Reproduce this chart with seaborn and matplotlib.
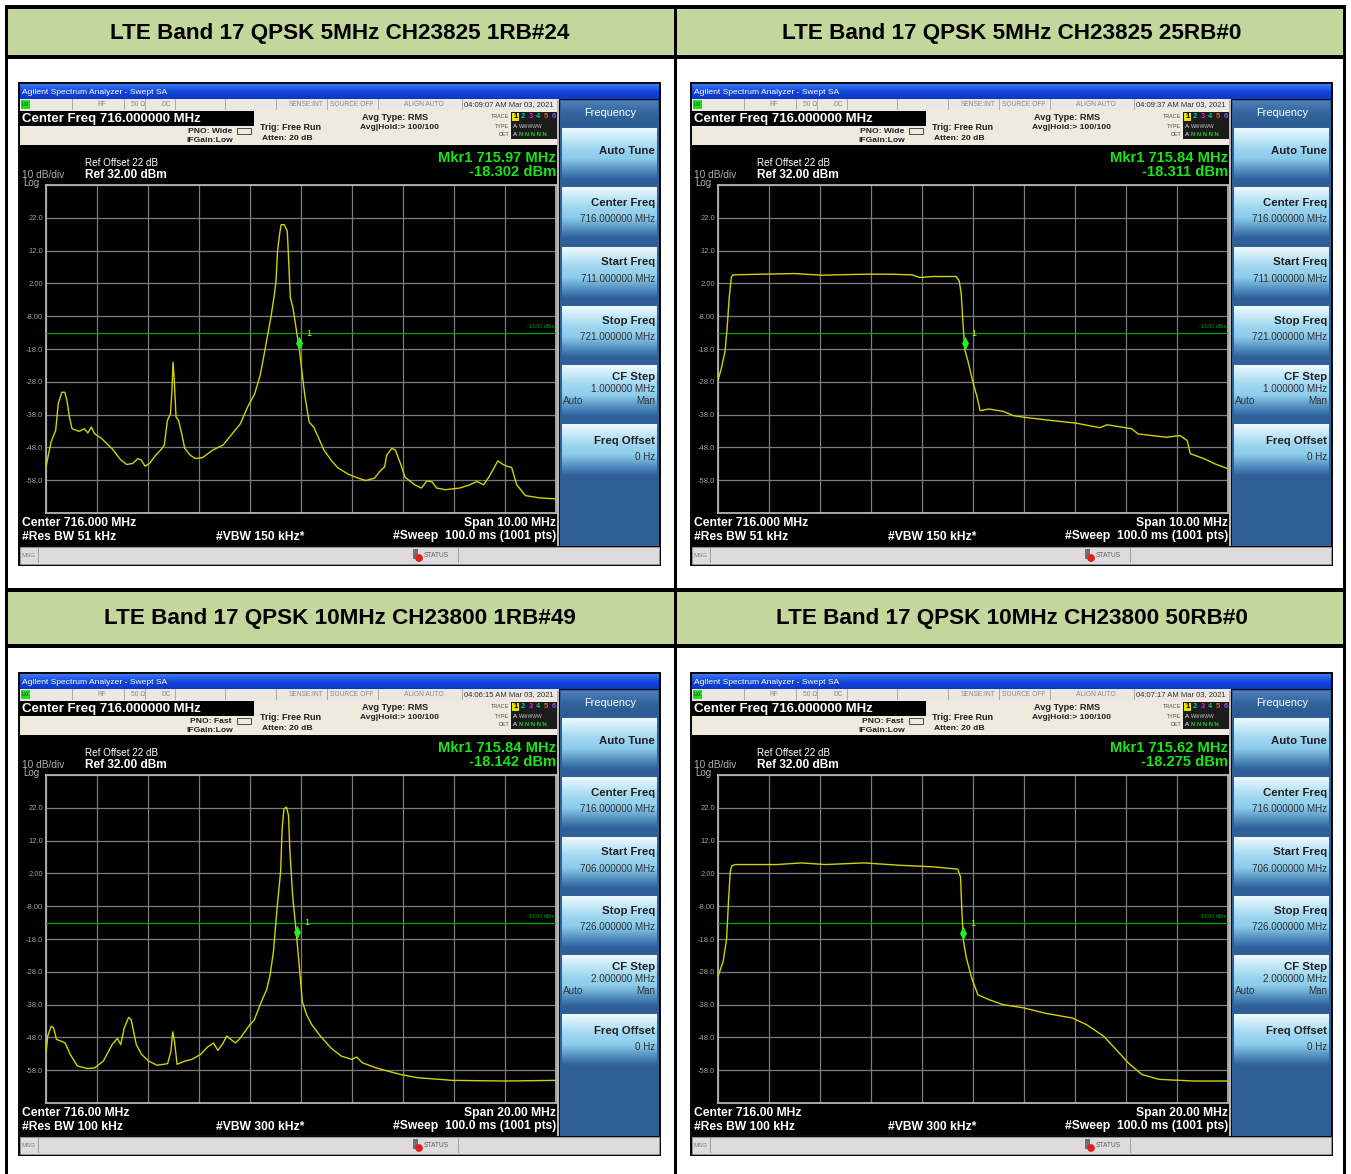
import numpy as np
import pandas as pd
import matplotlib
matplotlib.use("Agg")
import matplotlib.pyplot as plt
import seaborn as sns
from matplotlib.patches import Rectangle
from matplotlib.path import Path
from matplotlib.colors import LinearSegmentedColormap
import matplotlib.transforms as mtransforms

# ---------------------------------------------------------------- data
headers = [
    "LTE Band 17 QPSK 5MHz CH23825 1RB#24",
    "LTE Band 17 QPSK 5MHz CH23825 25RB#0",
    "LTE Band 17 QPSK 10MHz CH23800 1RB#49",
    "LTE Band 17 QPSK 10MHz CH23800 50RB#0",
]

# trace 1 : 5 MHz, 1RB#24  (MHz, dBm)
tl_freq = [711.00, 711.10, 711.19, 711.24, 711.31, 711.37, 711.41, 711.46, 711.51, 711.65,
           711.75, 711.82, 711.89, 711.95, 712.09, 712.29, 712.46, 712.58, 712.70, 712.80,
           712.87, 712.94, 713.03, 713.15, 713.25, 713.32, 713.38, 713.44, 713.47, 713.49,
           713.51, 713.55, 713.60, 713.66, 713.72, 713.83, 713.93, 714.07, 714.27, 714.47,
           714.68, 714.81, 714.95, 715.09, 715.20, 715.28, 715.35, 715.41, 715.48, 715.51,
           715.54, 715.58, 715.61, 715.67, 715.73, 715.75, 715.79, 715.84, 715.90, 715.97,
           716.03, 716.08, 716.16, 716.25, 716.35, 716.45, 716.59, 716.72, 716.93, 717.13,
           717.27, 717.44, 717.54, 717.64, 717.68, 717.78, 717.85, 717.95, 718.04, 718.23,
           718.36, 718.47, 718.57, 718.66, 718.83, 719.11, 719.31, 719.45, 719.58, 719.69,
           719.86, 719.96, 720.06, 720.13, 720.23, 720.40, 720.68, 721.00]
tl_level = [-53.9, -46.3, -42.8, -34.7, -31.2, -31.2, -33.7, -38.8, -42.3, -43.1,
            -42.3, -43.6, -41.8, -43.8, -45.3, -48.3, -51.7, -53.2, -52.9, -51.4,
            -51.9, -53.7, -52.9, -50.4, -48.8, -47.3, -39.8, -37.8, -30.7, -22.0,
            -26.0, -38.8, -39.8, -43.8, -48.3, -50.4, -51.4, -51.1, -48.8, -47.3,
            -43.3, -40.8, -35.8, -31.7, -26.0, -19.4, -13.4, -8.3, -1.2, 2.8,
            11.9, 17.0, 19.9, 19.9, 18.0, 11.9, -2.2, -5.3, -11.3, -18.3,
            -26.5, -32.7, -40.3, -41.8, -45.3, -48.8, -51.9, -54.2, -56.2, -57.4,
            -58.1, -57.4, -55.4, -53.9, -50.4, -48.3, -48.8, -52.9, -57.1, -59.4,
            -60.4, -58.2, -58.5, -60.4, -60.9, -60.4, -59.4, -58.4, -59.4, -56.9,
            -52.1, -53.2, -53.9, -54.1, -59.4, -62.7, -63.4, -63.7]

# trace 2 : 5 MHz, 25RB#0
tr_freq = [711.00, 711.07, 711.14, 711.18, 711.22, 711.26, 711.29, 711.82, 712.50, 713.04,
           713.86, 714.41, 714.81, 714.95, 715.22, 715.67, 715.73, 715.77, 715.80, 715.84,
           715.90, 715.99, 716.08, 716.14, 716.31, 716.59, 716.79, 716.99, 717.54, 718.02,
           718.49, 718.63, 719.11, 719.24, 719.79, 720.06, 720.20, 720.26, 720.54, 720.74,
           721.00]
tr_level = [-27.6, -23.6, -18.5, -11.4, -2.3, 3.8, 4.6, 4.8, 5.0, 4.5,
            4.8, 4.8, 4.6, 3.8, 4.1, 4.1, 2.8, -1.3, -9.4, -18.3,
            -21.6, -27.6, -32.7, -36.8, -36.3, -37.0, -38.3, -38.8, -39.8, -40.6,
            -42.0, -41.1, -42.3, -43.9, -44.9, -44.4, -45.9, -49.9, -51.5, -53.0,
            -54.5]

# trace 3 : 10 MHz, 1RB#49
bl_freq = [706.00, 706.07, 706.20, 706.30, 706.41, 706.61, 706.75, 706.95, 707.23, 707.63,
           707.91, 708.25, 708.59, 708.80, 708.93, 709.07, 709.24, 709.34, 709.54, 709.75,
           710.02, 710.36, 710.77, 710.90, 710.97, 711.04, 711.14, 711.45, 711.72, 712.06,
           712.34, 712.57, 712.74, 712.95, 713.08, 713.43, 713.63, 713.90, 714.17, 714.45,
           714.65, 714.79, 714.92, 715.06, 715.20, 715.26, 715.33, 715.43, 715.51, 715.56,
           715.67, 715.84, 715.95, 716.05, 716.22, 716.42, 716.76, 717.17, 717.58, 717.99,
           718.19, 718.40, 718.94, 719.90, 720.58, 721.94, 723.98, 726.00]
bl_level = [-52.7, -47.6, -44.6, -45.1, -48.6, -49.2, -49.7, -53.2, -56.7, -57.5,
            -57.3, -55.2, -50.2, -48.3, -50.2, -45.1, -41.9, -42.6, -50.2, -53.2,
            -55.2, -56.5, -56.0, -52.2, -46.3, -49.2, -56.2, -55.2, -54.7, -53.2,
            -50.9, -49.7, -52.0, -49.7, -47.6, -49.7, -48.1, -45.1, -42.6, -37.0,
            -33.5, -28.9, -21.8, -8.7, 2.5, 15.6, 21.7, 22.2, 19.7, 9.6,
            -4.6, -18.1, -27.9, -37.0, -41.1, -44.1, -47.6, -51.2, -53.7, -54.7,
            -54.0, -55.7, -57.3, -59.3, -60.3, -61.1, -61.3, -61.1]

# trace 4 : 10 MHz, 50RB#0
br_freq = [706.00, 706.20, 706.34, 706.41, 706.48, 706.54, 706.68, 708.32, 709.27, 710.22,
           711.72, 713.08, 714.45, 715.40, 715.51, 715.56, 715.62, 715.74, 715.95, 716.19,
           716.63, 717.17, 717.99, 718.81, 719.90, 720.45, 721.12, 721.67, 722.08, 722.62,
           723.30, 724.66, 726.00]
br_level = [-29.4, -24.9, -17.8, -6.6, 2.5, 4.3, 4.7, 4.7, 5.2, 4.7,
            5.2, 4.5, 4.0, 3.3, 1.0, -8.7, -18.3, -23.8, -29.9, -35.0,
            -36.5, -38.0, -39.0, -40.6, -42.1, -44.1, -47.6, -52.2, -55.7, -59.3,
            -60.8, -61.3, -61.3]

marker_freq = [715.97, 715.84, 715.84, 715.62]
marker_level = [-18.302, -18.311, -18.142, -18.275]
start_freq = [711.0, 711.0, 706.0, 706.0]
stop_freq = [721.0, 721.0, 726.0, 726.0]
timestamps = ["04:09:07 AM Mar 03, 2021", "04:09:37 AM Mar 03, 2021",
              "04:06:15 AM Mar 03, 2021", "04:07:17 AM Mar 03, 2021"]
pno_modes = ["Wide", "Wide", "Fast", "Fast"]
center_labels = ["716.000 MHz", "716.000 MHz", "716.00 MHz", "716.00 MHz"]
span_labels = ["10.00 MHz", "10.00 MHz", "20.00 MHz", "20.00 MHz"]
rbw_labels = ["51 kHz", "51 kHz", "100 kHz", "100 kHz"]
vbw_labels = ["150 kHz*", "150 kHz*", "300 kHz*", "300 kHz*"]
cf_step_labels = ["1.000000 MHz", "1.000000 MHz", "2.000000 MHz", "2.000000 MHz"]
ref_level = 32.0
display_line = -13.0
ytick_labels = ["", "22.0", "12.0", "2.00", "-8.00", "-18.0", "-28.0", "-38.0", "-48.0", "-58.0", ""]

traces = [(tl_freq, tl_level), (tr_freq, tr_level), (bl_freq, bl_level), (br_freq, br_level)]

# ---------------------------------------------------------------- setup
sns.set_theme(style="dark")
plt.rcParams["font.family"] = ["Liberation Sans", "DejaVu Sans"]
W, H = 1351, 1174
fig = plt.figure(figsize=(W / 100, H / 100), dpi=100)
fig.patch.set_facecolor("white")
bg = fig.add_axes([0, 0, 1, 1])
bg.set_facecolor("white")
bg.set_axis_off()


def rect(x, y, w, h, fc, ec="none", lw=0, z=1):
    bg.add_patch(Rectangle((x, y), w, h, facecolor=fc, edgecolor=ec, linewidth=lw, zorder=z))


def grad(x, y, w, h, stops, z=1):
    cmap = LinearSegmentedColormap.from_list("g", stops)
    arr = np.linspace(0, 1, 64).reshape(-1, 1)
    bg.imshow(arr, cmap=cmap, extent=(x, x + w, y + h, y), aspect="auto",
              interpolation="bilinear", zorder=z)


def txt(x, y, s, size, color="black", ha="left", weight="normal", z=5, **kw):
    bg.text(x, y, s, fontsize=size, color=color, ha=ha, va="center",
            fontweight=weight, zorder=z, **kw)


# ---------------------------------------------------------------- table
header_green = "#c3d69b"
rect(8, 8, 1336, 48, header_green)
rect(8, 591, 1336, 54, header_green)
for (y0, y1) in [(5, 9), (55, 59), (588, 592), (644, 648)]:
    rect(5, y0, 1341, y1 - y0, "black", z=2)
for (x0, x1) in [(5, 8), (674, 677), (1343, 1346)]:
    rect(x0, 5, x1 - x0, H - 5, "black", z=2)

header_pos = [(340, 33), (1012, 33), (340, 618.5), (1012, 618.5)]
for (hx, hy), htext in zip(header_pos, headers):
    txt(hx, hy, htext, 16.2, ha="center", weight="bold")

# ---------------------------------------------------------------- analyzer panels
panel_origins = [(18, 82), (690, 82), (18, 672), (690, 672)]
key_stops = [(0.0, "#eef9fe"), (0.12, "#c4e8f8"), (0.55, "#9fd6f0"), (0.82, "#8ccbea"),
             (0.9, "#5a97c4"), (1.0, "#2f64a0")]

diamond = Path([(0, 0), (0.5, 1), (0, 2), (-0.5, 1), (0, 0)],
               [Path.MOVETO, Path.LINETO, Path.LINETO, Path.LINETO, Path.CLOSEPOLY])

for i, (ox, oy) in enumerate(panel_origins):
    # frame
    rect(ox, oy, 643, 484, "#0a0a0a", z=1)
    # title bar
    grad(ox + 2, oy + 2, 639, 15, ["#3c78f0", "#1448dc", "#0a36c4"], z=2)
    txt(ox + 4, oy + 10, "Agilent Spectrum Analyzer - Swept SA", 6.1, "white", z=6)
    # status row
    rect(ox + 2, oy + 17, 539, 11, "#ebe8e3", z=2)
    rect(ox + 3, oy + 18, 9, 9, "#22dd22", z=3)
    txt(ox + 4, oy + 22.5, "LXI", 3.6, "#003300", z=6)
    for sx in [54, 106, 127, 157, 207, 258, 309, 360, 444]:
        rect(ox + sx, oy + 17, 0.8, 11, "#b0aca4", z=3)
    for sx, s in [(79, "RF"), (113, "50 Ω"), (143, "DC"), (271, "SENSE:INT"),
                  (312, "SOURCE OFF"), (386, "ALIGN AUTO")]:
        txt(ox + sx, oy + 22.5, s, 4.8, "#8a8a8a", z=6)
    txt(ox + 446, oy + 22.5, timestamps[i], 5.5, "#303030", z=6)
    # info area
    rect(ox + 2, oy + 28, 539, 35, "#efeadd", z=2)
    rect(ox + 2, oy + 29, 234, 15, "black", z=3)
    txt(ox + 4, oy + 37, "Center Freq 716.000000 MHz", 9.5, "white", weight="bold", z=6)
    txt(ox + 214, oy + 49.5, "PNO: " + pno_modes[i], 6.1, "#202020", ha="right", weight="bold", z=6)
    txt(ox + 215, oy + 58.5, "IFGain:Low", 6.1, "#202020", ha="right", weight="bold", z=6)
    bg.add_patch(Rectangle((ox + 219, oy + 46), 14, 6, facecolor="none",
                           edgecolor="#303030", linewidth=0.6, zorder=6))
    txt(ox + 242, oy + 46, "Trig: Free Run", 6.5, "#202020", weight="bold", z=6)
    txt(ox + 244, oy + 56.5, "Atten: 20 dB", 6.1, "#202020", weight="bold", z=6)
    txt(ox + 377, oy + 35, "Avg Type: RMS", 6.6, "#202020", ha="center", weight="bold", z=6)
    txt(ox + 381, oy + 45.5, "Avg|Hold:> 100/100", 6.1, "#202020", ha="center", weight="bold", z=6)
    # trace indicator box
    rect(ox + 493, oy + 30, 47, 27, "#1c1c1c", z=3)
    txt(ox + 491, oy + 34.5, "TRACE", 3.9, "#505050", ha="right", z=6)
    txt(ox + 491, oy + 44, "TYPE", 3.9, "#505050", ha="right", z=6)
    txt(ox + 491, oy + 53, "DET", 3.9, "#505050", ha="right", z=6)
    rect(ox + 494, oy + 31, 7, 8, "#e8e000", z=4)
    for k, (c, s) in enumerate([("black", "1"), ("#00c8c8", "2"), ("#e020e0", "3"),
                                ("#20c080", "4"), ("#ff5050", "5"), ("#8050ff", "6")]):
        txt(ox + 497.5 + 7.6 * k, oy + 35, s, 5.4, c, ha="center", weight="bold", z=6)
    txt(ox + 495, oy + 44, "A", 4.6, "white", z=6)
    txt(ox + 501, oy + 44, "WWWWW", 3.6, "#c8c8c8", z=6)
    txt(ox + 495, oy + 53, "A", 4.6, "white", z=6)
    txt(ox + 501, oy + 53, "N N N N N", 4.3, "#20d020", weight="bold", z=6)
    # graph area
    rect(ox + 2, oy + 63, 538, 400, "black", z=2)
    rect(ox + 539, oy + 18, 1.5, 446, "#b8b8b8", z=3)
    txt(ox + 67, oy + 81.5, "Ref Offset 22 dB", 7.1, "white", z=6)
    txt(ox + 4, oy + 93.5, "10 dB/div", 7.3, "#b0b0b0", z=6)
    txt(ox + 67, oy + 93.5, "Ref 32.00 dBm", 8.6, "white", weight="bold", z=6)
    txt(ox + 5, oy + 101.5, "Log", 7.0, "#b0b0b0", z=6)
    txt(ox + 538, oy + 75.5, "Mkr1 %.2f MHz" % marker_freq[i], 10.6, "#19e619", ha="right", weight="bold", z=6)
    txt(ox + 538, oy + 89.5, "%.3f dBm" % marker_level[i], 10.6, "#19e619", ha="right", weight="bold", z=6)
    txt(ox + 4, oy + 441, "Center " + center_labels[i], 8.7, "white", weight="bold", z=6)
    txt(ox + 538, oy + 441, "Span " + span_labels[i], 8.7, "white", ha="right", weight="bold", z=6)
    txt(ox + 4, oy + 454.5, "#Res BW " + rbw_labels[i], 8.7, "white", weight="bold", z=6)
    txt(ox + 198, oy + 454.5, "#VBW " + vbw_labels[i], 8.7, "white", weight="bold", z=6)
    txt(ox + 538, oy + 454.5, "#Sweep  100.0 ms (1001 pts)", 8.7, "white", ha="right", weight="bold", z=6)
    # MSG bar
    rect(ox + 2, oy + 465, 639, 17, "#dedbde", ec="#9a9a9a", lw=0.6, z=2)
    txt(ox + 4, oy + 473.5, "MSG", 4.4, "#808080", z=6)
    rect(ox + 20, oy + 466, 0.8, 15, "#a0a0a0", z=3)
    rect(ox + 395, oy + 467, 5, 10, "#707070", z=3)
    bg.add_patch(plt.Circle((ox + 401, oy + 476), 3.2, color="#e02020", zorder=4))
    txt(ox + 406, oy + 473.5, "STATUS", 4.8, "#606060", z=6)
    rect(ox + 440, oy + 466, 0.8, 15, "#a0a0a0", z=3)
    # softkey panel
    rect(ox + 542, oy + 18, 99, 446, "#2f5f97", z=2)
    grad(ox + 543, oy + 19, 97, 25, ["#4c7fb6", "#32659e", "#2a5a90"], z=3)
    txt(ox + 592, oy + 31, "Frequency", 7.9, "white", ha="center", z=6)
    key_tops = [46, 105, 165, 224, 283, 342]
    for kt in key_tops:
        grad(ox + 544, oy + kt, 95, 51, [c for _, c in key_stops], z=3)
    kx = ox + 637
    txt(kx, oy + 69.5, "Auto Tune", 8.2, "#202020", ha="right", weight="bold", z=6)
    txt(kx, oy + 120.5, "Center Freq", 8.2, "#202020", ha="right", weight="bold", z=6)
    txt(kx, oy + 137, "716.000000 MHz", 7.1, "#303030", ha="right", z=6)
    txt(kx, oy + 180, "Start Freq", 8.2, "#202020", ha="right", weight="bold", z=6)
    txt(kx, oy + 196.5, "%.6f MHz" % start_freq[i], 7.1, "#303030", ha="right", z=6)
    txt(kx, oy + 239.5, "Stop Freq", 8.2, "#202020", ha="right", weight="bold", z=6)
    txt(kx, oy + 255.5, "%.6f MHz" % stop_freq[i], 7.1, "#303030", ha="right", z=6)
    txt(kx, oy + 294.5, "CF Step", 8.2, "#202020", ha="right", weight="bold", z=6)
    txt(kx, oy + 307, cf_step_labels[i], 7.1, "#303030", ha="right", z=6)
    txt(ox + 545, oy + 319.5, "Auto", 7.1, "#303030", z=6)
    rect(ox + 545, oy + 324.5, 21, 0.7, "#303030", z=6)
    txt(kx, oy + 319.5, "Man", 7.1, "#303030", ha="right", z=6)
    txt(kx, oy + 358.5, "Freq Offset", 8.2, "#202020", ha="right", weight="bold", z=6)
    txt(kx, oy + 374.5, "0 Hz", 7.1, "#303030", ha="right", z=6)

bg.set_xlim(0, W)
bg.set_ylim(H, 0)

# ---------------------------------------------------------------- spectrum plots
for i, (ox, oy) in enumerate(panel_origins):
    x0, x1 = ox + 28, ox + 538
    y0, y1 = oy + 103, oy + 431
    ax = fig.add_axes([x0 / W, 1 - y1 / H, (x1 - x0) / W, (y1 - y0) / H])
    ax.set_facecolor("black")
    f, lv = traces[i]
    df = pd.DataFrame({"freq": f, "level": lv})
    sns.lineplot(data=df, x="freq", y="level", ax=ax, color="#d2d200",
                 linewidth=1.0, estimator=None, sort=False, zorder=4)
    ax.axhline(display_line, color="#00a800", linewidth=0.9, zorder=3)
    ax.text(0.997, display_line + 1.2, "%.2f dBm" % display_line, color="#00b000",
            fontsize=3.8, ha="right", va="bottom",
            transform=mtransforms.blended_transform_factory(ax.transAxes, ax.transData))
    ax.plot([marker_freq[i]], [marker_level[i]], marker=diamond, markersize=20,
            color="#22ee22", markeredgewidth=0, linestyle="none", zorder=6)
    ax.annotate("1", (marker_freq[i], marker_level[i]), xytext=(5, 12),
                textcoords="offset points", color="#e8e800", fontsize=6.5,
                ha="left", va="center", zorder=7)
    ax.set_xlim(start_freq[i], stop_freq[i])
    ax.set_ylim(ref_level - 100, ref_level)
    ax.set_xticks(np.linspace(start_freq[i], stop_freq[i], 11))
    ax.set_xticklabels([])
    yt = np.linspace(ref_level, ref_level - 100, 11)
    ax.set_yticks(yt)
    ax.set_yticklabels(ytick_labels)
    ax.tick_params(axis="both", length=0, pad=2, labelsize=5.5, labelcolor="#a0a0a0")
    ax.grid(True, color="#7c7c7c", linewidth=0.9)
    ax.set_axisbelow(True)
    ax.set_xlabel("")
    ax.set_ylabel("")
    for sp in ax.spines.values():
        sp.set_visible(True)
        sp.set_color("#b4b4b4")
        sp.set_linewidth(1.3)

fig.savefig("out.png", dpi=100, facecolor="white")
